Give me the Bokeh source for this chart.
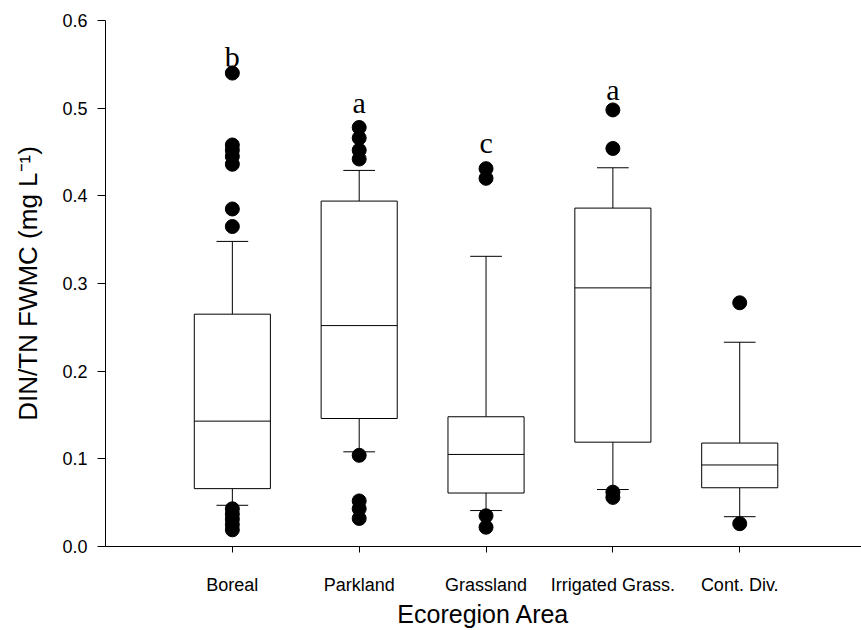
from bokeh.plotting import figure
from bokeh.models import Range1d, FixedTicker, PrintfTickFormatter
from bokeh.core.properties import value
from bokeh.embed import file_html
from bokeh.resources import INLINE

# ---- data ----
categories = ["Boreal", "Parkland", "Grassland", "Irrigated Grass.", "Cont. Div."]
q1 = [0.066, 0.146, 0.061, 0.119, 0.067]
median = [0.143, 0.252, 0.105, 0.295, 0.093]
q3 = [0.265, 0.394, 0.148, 0.386, 0.118]
whisker_low = [0.047, 0.108, 0.041, 0.065, 0.034]
whisker_high = [0.348, 0.429, 0.331, 0.432, 0.233]

outlier_cat = (["Boreal"] * 12 + ["Parkland"] * 8 + ["Grassland"] * 4
               + ["Irrigated Grass."] * 4 + ["Cont. Div."] * 2)
outlier_val = [0.540, 0.458, 0.452, 0.445, 0.436, 0.385, 0.365, 0.043, 0.037, 0.031, 0.025, 0.019,
               0.478, 0.466, 0.452, 0.442, 0.104, 0.052, 0.043, 0.032,
               0.431, 0.420, 0.035, 0.022,
               0.498, 0.454, 0.062, 0.056,
               0.278, 0.026]

letter_cat = ["Boreal", "Parkland", "Grassland", "Irrigated Grass."]
letter_text = ["b", "a", "c", "a"]
letter_y = [0.559, 0.507, 0.461, 0.521]

y_ticks = [0.0, 0.1, 0.2, 0.3, 0.4, 0.5, 0.6]

# ---- positions from categories ----
pos = {c: i + 1 for i, c in enumerate(categories)}
x = [pos[c] for c in categories]
box_w = 0.6
cap_w = 0.25

p = figure(width=861, height=630, x_range=Range1d(0, 5.96), y_range=Range1d(0, 0.6),
           output_backend="svg", toolbar_location=None,
           min_border_left=105, min_border_right=0, min_border_top=20, min_border_bottom=83)
p.outline_line_color = None
p.grid.visible = False
p.background_fill_color = "white"
p.border_fill_color = "white"

# whiskers
p.segment(x0=x, y0=q3, x1=x, y1=whisker_high, line_color="black", line_width=1)
p.segment(x0=x, y0=q1, x1=x, y1=whisker_low, line_color="black", line_width=1)
p.segment(x0=[v - cap_w / 2 for v in x], y0=whisker_high, x1=[v + cap_w / 2 for v in x], y1=whisker_high,
          line_color="black", line_width=1)
p.segment(x0=[v - cap_w / 2 for v in x], y0=whisker_low, x1=[v + cap_w / 2 for v in x], y1=whisker_low,
          line_color="black", line_width=1)
# boxes
p.vbar(x=x, width=box_w, bottom=q1, top=q3, fill_color="white", line_color="black", line_width=1)
p.segment(x0=[v - box_w / 2 for v in x], y0=median, x1=[v + box_w / 2 for v in x], y1=median,
          line_color="black", line_width=1)
# outliers
p.scatter(x=[pos[c] for c in outlier_cat], y=outlier_val, size=14, fill_color="black", line_color="black")
# letters
p.text(x=[pos[c] for c in letter_cat], y=letter_y, text=letter_text,
       text_font=value("Liberation Serif"), text_font_size="30px",
       text_align="center", text_baseline="alphabetic", text_color="black")

# axes
p.xaxis.ticker = FixedTicker(ticks=x)
p.xaxis.major_label_overrides = {pos[c]: c for c in categories}
p.yaxis.ticker = FixedTicker(ticks=y_ticks)
p.yaxis.formatter = PrintfTickFormatter(format="%.1f")
p.xaxis.axis_label = "Ecoregion Area"
p.yaxis.axis_label = "DIN/TN FWMC (mg L\u207b\u00b9)"

for ax in (p.xaxis[0], p.yaxis[0]):
    ax.axis_line_color = "black"
    ax.axis_line_width = 1
    ax.major_tick_line_color = "black"
    ax.major_tick_in = 0
    ax.minor_tick_line_color = None
    ax.major_label_text_font = "Liberation Sans"
    ax.major_label_text_font_size = "18px"
    ax.major_label_text_color = "black"
    ax.axis_label_text_font = "Liberation Sans"
    ax.axis_label_text_font_style = "normal"
    ax.axis_label_text_color = "black"

p.yaxis.axis_label_text_font_size = "26px"
p.xaxis.axis_label_text_font_size = "25px"
p.yaxis.major_tick_out = 8
p.yaxis.major_label_standoff = 10
p.yaxis.axis_label_standoff = 16
p.xaxis.major_tick_out = 6
p.xaxis.major_label_standoff = 22
p.xaxis.axis_label_standoff = 2

open("out.html", "w").write(file_html(p, INLINE))
